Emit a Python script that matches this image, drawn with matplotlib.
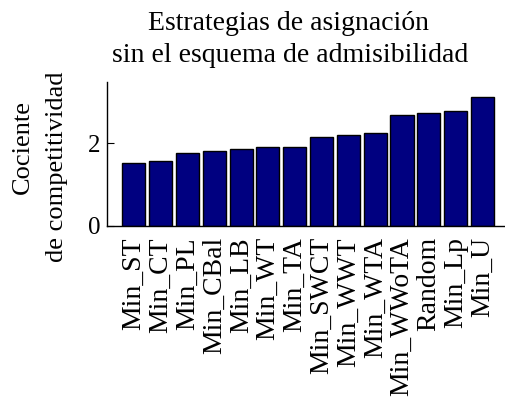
import matplotlib
matplotlib.use("Agg")
import matplotlib.pyplot as plt
import numpy as np

categories = ["Min_ST", "Min_CT", "Min_PL", "Min_CBal", "Min_LB", "Min_WT", "Min_TA",
              "Min_SWCT", "Min_WWT", "Min_WTA", "Min_WWoTA", "Random", "Min_Lp", "Min_U"]
values = [1.52, 1.57, 1.77, 1.81, 1.86, 1.91, 1.91, 2.15, 2.20, 2.25, 2.68, 2.73, 2.78, 3.12]
yticks = [0, 2]

plt.rcParams['font.family'] = ['Liberation Serif', 'DejaVu Serif']

W, H = 505, 398
fig = plt.figure(figsize=(W / 100, H / 100), dpi=100)
left, right, bottom, top = 107, 509.3, 226, 82
ax = fig.add_axes([left / W, 1 - bottom / H, (right - left) / W, (bottom - top) / H])

x = np.arange(1, len(values) + 1)
ax.bar(x, values, width=0.86, color=(0, 0, 0.5), edgecolor='black', linewidth=1)
ax.set_xlim(0, len(values) + 1)
ax.set_ylim(0, 3.47)
ax.set_yticks(yticks)
ax.set_yticklabels([str(t) for t in yticks], fontsize=18)
ax.set_xticks(x)
ax.set_xticklabels(categories, rotation=90, fontsize=20, ha='center', va='top')
ax.tick_params(axis='y', direction='in', length=5, pad=5)
ax.tick_params(axis='x', direction='in', length=0, pad=8)
for s in ['top', 'right']:
    ax.spines[s].set_visible(False)
ax.spines['left'].set_linewidth(1)
ax.spines['bottom'].set_linewidth(1)

fig.text(23 / W, 1 - 147 / H, "Cociente", rotation=90, ha='center', va='center', fontsize=19)
fig.text(57 / W, 1 - 167 / H, "de competitividad", rotation=90, ha='center', va='center', fontsize=19)

fig.text(289 / W, 1 - 30 / H, "Estrategias de asignación", ha='center', va='baseline', fontsize=20)
fig.text(290 / W, 1 - 62 / H, "sin el esquema de admisibilidad", ha='center', va='baseline', fontsize=20)

fig.savefig("out.png", dpi=100)
